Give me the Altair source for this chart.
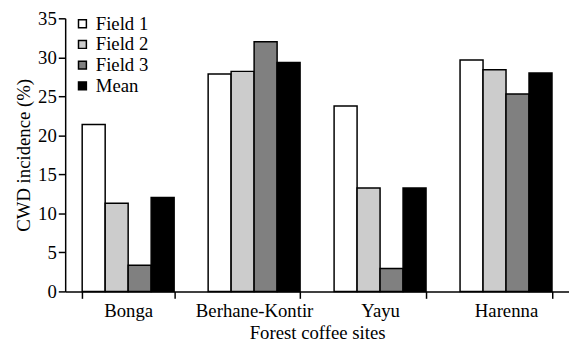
import altair as alt
import pandas as pd

sites = ["Bonga", "Berhane-Kontir", "Yayu", "Harenna"]
series = ["Field 1", "Field 2", "Field 3", "Mean"]
field1 = [21.4, 27.85, 23.75, 29.65]
field2 = [11.3, 28.2, 13.25, 28.4]
field3 = [3.35, 32.0, 2.95, 25.3]
mean = [12.05, 29.35, 13.25, 28.0]
colors = ["#ffffff", "#cccccc", "#808080", "#000000"]

rows = []
for i, s in enumerate(sites):
    for name, vals in zip(series, [field1, field2, field3, mean]):
        rows.append({"site": s, "series": name, "value": vals[i]})
df = pd.DataFrame(rows)

font = "Liberation Serif"
fs = 19

chart = alt.Chart(df).mark_bar(stroke="black", strokeWidth=1.5).encode(
    x=alt.X("site:N", sort=sites, title="Forest coffee sites",
            scale=alt.Scale(paddingInner=0.27, paddingOuter=0.135),
            axis=alt.Axis(labelAngle=0, tickBand="extent", domainColor="black",
                          tickColor="black", domainWidth=1.5, tickWidth=1.5, tickSize=7,
                          labelFont=font, labelFontSize=fs, labelColor="black", labelPadding=3,
                          titleFont=font, titleFontSize=fs, titleFontWeight="normal",
                          titleColor="black", titlePadding=4)),
    xOffset=alt.XOffset("series:N", sort=series, scale=alt.Scale(paddingInner=0, paddingOuter=0)),
    y=alt.Y("value:Q", title="CWD incidence (%)",
            scale=alt.Scale(domain=[0, 35], nice=False),
            axis=alt.Axis(values=[0, 5, 10, 15, 20, 25, 30, 35], grid=False,
                          domainColor="black", tickColor="black", domainWidth=1.5,
                          tickWidth=1.5, tickSize=7, labelFont=font, labelFontSize=fs,
                          labelColor="black", labelPadding=2,
                          titleFont=font, titleFontSize=fs, titleFontWeight="normal",
                          titleColor="black", titlePadding=4)),
    fill=alt.Fill("series:N", sort=series,
                  scale=alt.Scale(domain=series, range=colors),
                  legend=alt.Legend(title=None, orient="none", legendX=8, legendY=-4,
                                    symbolType="square", symbolSize=64,
                                    symbolStrokeColor="black", symbolStrokeWidth=1.5,
                                    labelFont=font, labelFontSize=fs, labelColor="black",
                                    rowPadding=1, labelOffset=4)),
).properties(
    width=511, height=277,
    autosize=alt.AutoSizeParams(type="none"),
    padding={"left": 58, "top": 8, "right": 0, "bottom": 60},
).configure_view(stroke=None)

chart.save("out.html", embed_options={"renderer": "svg", "actions": False})
